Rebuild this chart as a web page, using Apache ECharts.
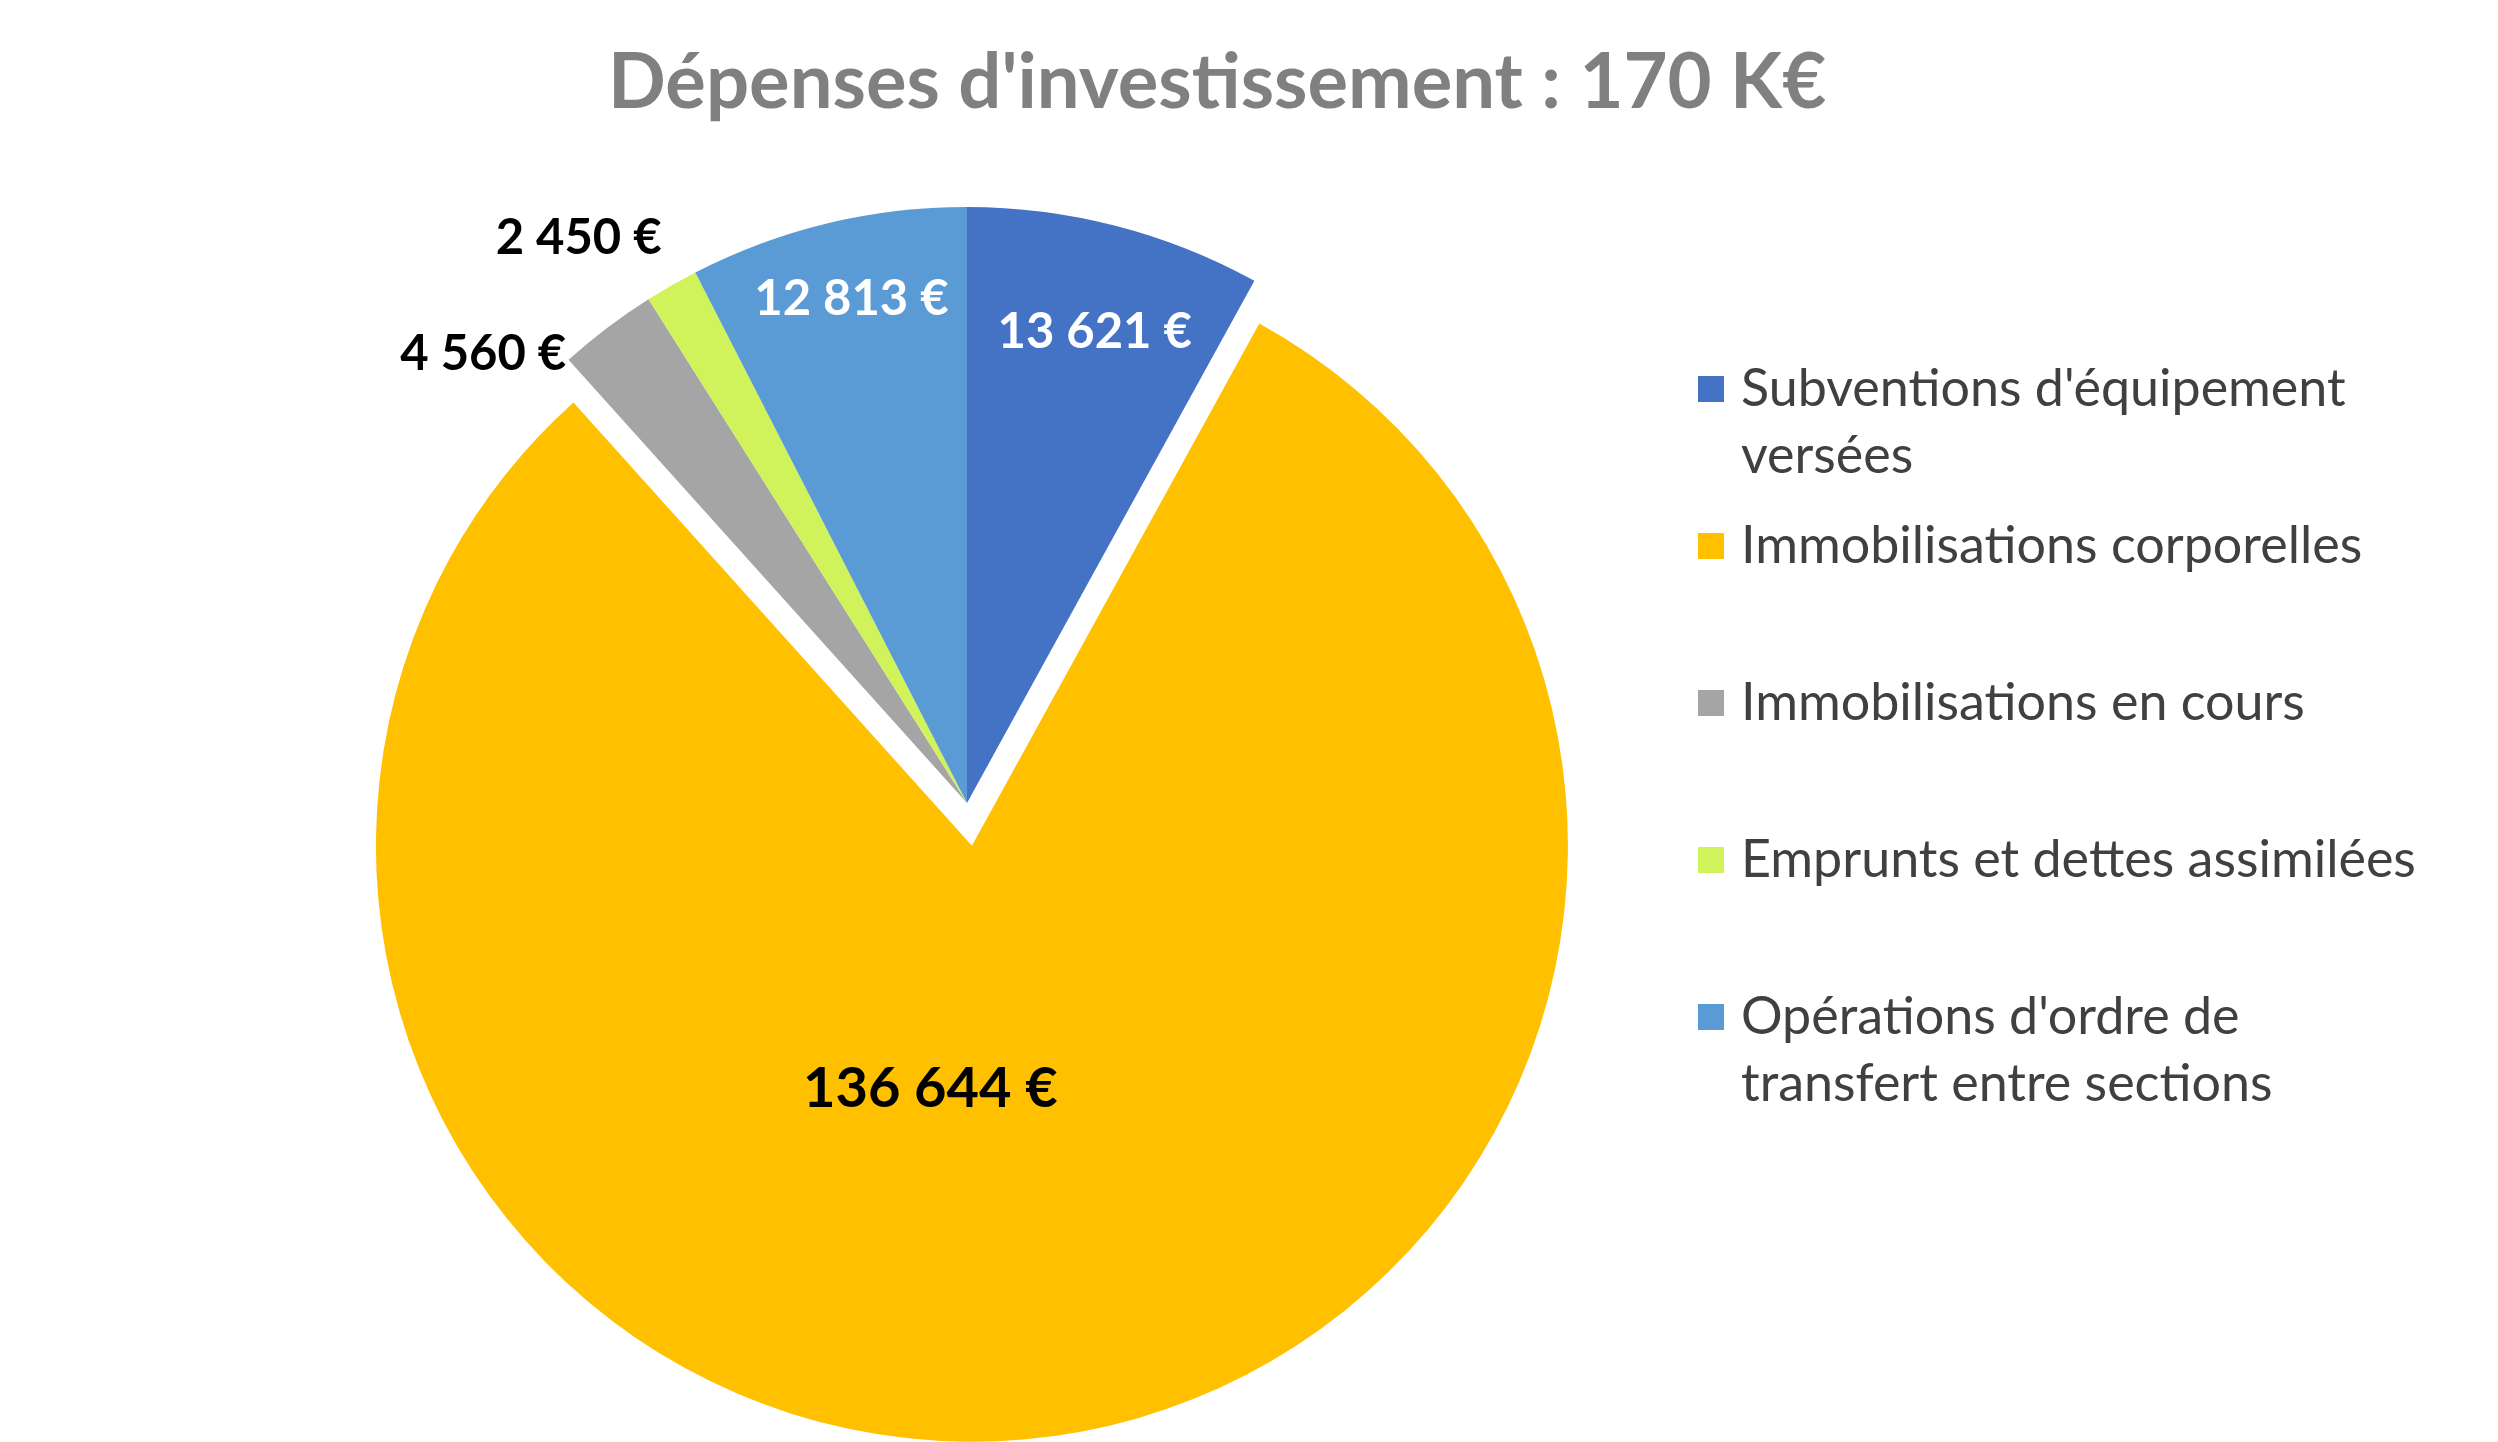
<!DOCTYPE html>
<html><head><meta charset="utf-8">
<script src="https://cdn.jsdelivr.net/npm/echarts@6/dist/echarts.min.js"></script>
<style>html,body{margin:0;padding:0;background:#fff}#c{width:2498px;height:1442px}</style>
</head><body><div id="c"></div>
<script>
// ---- data ----
const chartTitle = "Dépenses d'investissement : 170 K€";
const categories = ["Subventions d'équipement versées", "Immobilisations corporelles", "Immobilisations en cours", "Emprunts et dettes assimilées", "Opérations d'ordre de transfert entre sections"];
const legendText = ["Subventions d'équipement\nversées", "Immobilisations corporelles", "Immobilisations en cours", "Emprunts et dettes assimilées", "Opérations d'ordre de\ntransfert entre sections"];
const values = [13621, 136644, 4560, 2450, 12813];
const explodedIndex = 1;

// ---- styles ----
const FONT = 'Lato';
const colors = ['#4472C4', '#FFC000', '#A5A5A5', '#D0F25A', '#5B9BD5'];
const PIE = { cx: 967, cy: 803, r: 596, explode: 43 };
const labelPlace = [
  { f: 0.82, dx: 6, dy: 3, align: 'center', color: '#ffffff', size: 49 },
  null, // exploded slice: default inside position, shifted by padding / line box
  { f: 1.0, dx: -41, dy: 26, align: 'right', color: '#000000', size: 49 },
  { f: 1.0, dx: -10, dy: -47, align: 'right', color: '#000000', size: 49 },
  { f: 0.87, dx: 6, dy: 0, align: 'center', color: '#ffffff', size: 49 }
];
const yellowLabelPadding = [0, 152, 0, 0];
const yellowLabelLineHeight = 112;
const legendIconCenters = [389, 546, 703, 860, 1017];
const LEG_LH = 67;

function fmt(v) { return String(v).replace(/\B(?=(\d{3})+(?!\d))/g, ' ') + ' €'; }
const total = values.reduce((a, b) => a + b, 0);
function midAngle(i) {
  let s = 0; for (let k = 0; k < i; k++) s += values[k];
  return (s + values[i] / 2) / total * 2 * Math.PI;
}

const chart = echarts.init(document.getElementById('c'), null, { renderer: 'canvas' });

const legends = categories.map((name, i) => {
  const lines = legendText[i].split('\n');
  // two-line entries: prepend an empty line so the first text line is centred on the marker
  const shown = lines.length > 1 ? '\n' + lines.join('\n') : lines[0];
  const boxH = (lines.length > 1 ? 3 : 1) * LEG_LH;
  return {
    data: [name], orient: 'vertical', left: 1698, top: legendIconCenters[i] - boxH / 2,
    padding: 0, itemWidth: 26, itemHeight: 26, icon: 'rect', selectedMode: false,
    formatter: () => shown,
    textStyle: { fontFamily: FONT, fontSize: 52, color: '#404040', lineHeight: LEG_LH, padding: [0, 0, 0, 12] }
  };
});

chart.setOption({
  animation: false,
  backgroundColor: '#ffffff',
  color: colors,
  title: {
    text: chartTitle, left: 603, top: 40,
    textStyle: { fontFamily: FONT, fontSize: 76, fontWeight: 'bold', color: '#808080' }
  },
  legend: legends,
  series: [{
    type: 'pie',
    center: [PIE.cx, PIE.cy],
    radius: PIE.r,
    startAngle: 90,
    clockwise: true,
    selectedMode: 'single',
    selectedOffset: PIE.explode,
    avoidLabelOverlap: false,
    emphasis: { scale: false },
    labelLine: { show: false },
    label: { show: true, fontFamily: FONT, fontWeight: 'bold', formatter: p => fmt(p.value) },
    data: categories.map((name, i) => {
      const p = labelPlace[i];
      const label = p
        ? { position: p.f >= 1 ? 'outside' : 'inside', color: p.color, fontSize: p.size }
        : { position: 'inside', color: '#000000', fontSize: 56, padding: yellowLabelPadding,
            lineHeight: yellowLabelLineHeight, formatter: q => fmt(q.value) + '\n ' };
      return { name, value: values[i], selected: i === explodedIndex, itemStyle: { color: colors[i] }, label };
    }),
    labelLayout: function (params) {
      const i = params.dataIndex;
      const p = labelPlace[i];
      if (!p) return {};
      const a = midAngle(i);
      return {
        x: PIE.cx + p.f * PIE.r * Math.sin(a) + p.dx,
        y: PIE.cy - p.f * PIE.r * Math.cos(a) + p.dy,
        align: p.align, verticalAlign: 'middle'
      };
    }
  }]
});
</script>
</body></html>
